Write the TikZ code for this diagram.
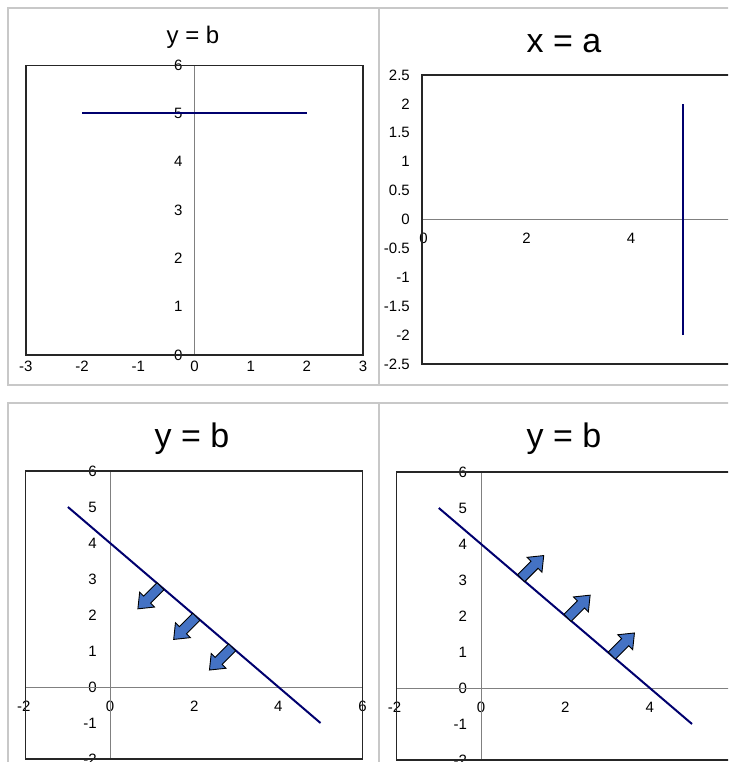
\documentclass[tikz,border=0pt]{standalone}
\usepackage{fontspec}
\setmainfont{Liberation Sans}
\definecolor{framegray}{RGB}{200,200,200}
\definecolor{axisgray}{RGB}{128,128,128}
\definecolor{linenavy}{RGB}{0,0,110}
\definecolor{arrowblue}{RGB}{68,114,196}
\tikzset{
  pics/blockarrow/.style={code={
    \draw[fill=arrowblue,line width=0.9pt,line join=miter]
      (0pt,-5pt) -- (19pt,-5pt) -- (19pt,-10.5pt) -- (32pt,0pt)
      -- (19pt,10.5pt) -- (19pt,5pt) -- (0pt,5pt) -- cycle;}}}

\begin{document}
\begin{tikzpicture}[x=1pt,y=1pt,
  panel/.style={draw=framegray,line width=2pt},
  plotarea/.style={draw=black!85,line width=1.3pt},
  axisline/.style={draw=axisgray,line width=0.8pt},
  dataline/.style={draw=linenavy,line width=2pt},
  ylab/.style={font=\fontsize{15}{17}\selectfont,inner sep=0pt,anchor=east},
  xlab/.style={font=\fontsize{15}{17}\selectfont,inner sep=0pt,anchor=base},
  smalltitle/.style={font=\fontsize{24}{28}\selectfont,inner sep=0pt,anchor=base},
  bigtitle/.style={font=\fontsize{34}{40}\selectfont,inner sep=0pt,anchor=base}]
  \useasboundingbox (0,0) rectangle (728,762);
  \clip (0,0) rectangle (728,762);

  % grey frames of the four charts
  \draw[panel] (8,377) rectangle (379,754);
  \draw[panel] (379,377) rectangle (740,754);
  \draw[panel] (8,-10) rectangle (379,359);
  \draw[panel] (379,-10) rectangle (740,359);

  % titles
  \node[smalltitle] (t1) at (193,718) {y = b};
  \node[bigtitle] (t2) at (564,709) {x = a};
  \node[bigtitle] (t3) at (192,314) {y = b};
  \node[bigtitle] (t4) at (564,314) {y = b};

  % chart 1: horizontal line y = 5
  \begin{scope}[shift={(194.5pt,407pt)},x=56.2pt,y=48.3pt]
    \node[ylab] (c1y0) at (-0.21,0) {0};
    \node[ylab] (c1y1) at (-0.21,1) {1};
    \node[ylab] (c1y2) at (-0.21,2) {2};
    \node[ylab] (c1y3) at (-0.21,3) {3};
    \node[ylab] (c1y4) at (-0.21,4) {4};
    \node[ylab] (c1y5) at (-0.21,5) {5};
    \node[ylab] (c1y6) at (-0.21,6) {6};
    \node[xlab] (c1xm3) at (-3,-0.35) {-3};
    \node[xlab] (c1xm2) at (-2,-0.35) {-2};
    \node[xlab] (c1xm1) at (-1,-0.35) {-1};
    \node[xlab] (c1x0) at (0,-0.35) {0};
    \node[xlab] (c1x1) at (1,-0.35) {1};
    \node[xlab] (c1x2) at (2,-0.35) {2};
    \node[xlab] (c1x3) at (3,-0.35) {3};
    \draw[axisline] (0,0) -- (0,6);
    \draw[plotarea] (-3,0) rectangle (3,6);
    \draw[dataline] (-2,5) -- (2,5);
  \end{scope}

  % chart 2: vertical line x = 5
  \begin{scope}[shift={(422pt,542.5pt)},x=52.25pt,y=57.8pt]
    \node[ylab] (c2ym25) at (-0.23,-2.5) {-2.5};
    \node[ylab] (c2ym2) at (-0.23,-2) {-2};
    \node[ylab] (c2ym15) at (-0.23,-1.5) {-1.5};
    \node[ylab] (c2ym1) at (-0.23,-1) {-1};
    \node[ylab] (c2ym05) at (-0.23,-0.5) {-0.5};
    \node[ylab] (c2y0) at (-0.23,0) {0};
    \node[ylab] (c2y05) at (-0.23,0.5) {0.5};
    \node[ylab] (c2y1) at (-0.23,1) {1};
    \node[ylab] (c2y15) at (-0.23,1.5) {1.5};
    \node[ylab] (c2y2) at (-0.23,2) {2};
    \node[ylab] (c2y25) at (-0.23,2.5) {2.5};
    \node[xlab] (c2x0) at (0.03,-0.41) {0};
    \node[xlab] (c2x2) at (2,-0.41) {2};
    \node[xlab] (c2x4) at (4,-0.41) {4};
    \draw[axisline] (0,0) -- (6.3,0);
    \draw[plotarea] (0,-2.5) rectangle (6.3,2.5);
    \draw[dataline] (5,-2) -- (5,2);
  \end{scope}

  % chart 3: line x + y = 4, arrows towards the origin
  \begin{scope}[shift={(110pt,75pt)},x=42.1pt,y=36pt]
    \node[ylab] (c3ym2) at (-0.31,-2) {-2};
    \node[ylab] (c3ym1) at (-0.31,-1) {-1};
    \node[ylab] (c3y0) at (-0.31,0) {0};
    \node[ylab] (c3y1) at (-0.31,1) {1};
    \node[ylab] (c3y2) at (-0.31,2) {2};
    \node[ylab] (c3y3) at (-0.31,3) {3};
    \node[ylab] (c3y4) at (-0.31,4) {4};
    \node[ylab] (c3y5) at (-0.31,5) {5};
    \node[ylab] (c3y6) at (-0.31,6) {6};
    \node[xlab] (c3xm2) at (-2.05,-0.69) {-2};
    \node[xlab] (c3x0) at (0,-0.69) {0};
    \node[xlab] (c3x2) at (2,-0.69) {2};
    \node[xlab] (c3x4) at (4,-0.69) {4};
    \node[xlab] (c3x6) at (6,-0.69) {6};
    \draw[axisline] (-2,0) -- (6,0);
    \draw[axisline] (0,-2) -- (0,6);
    \draw[plotarea] (-2,-2) rectangle (6,6);
    \draw[dataline] (-1,5) -- (5,-1);
    \pic[rotate=225] (c3a1) at (1.2,2.8) {blockarrow};
    \pic[rotate=225] (c3a2) at (2.05,1.95) {blockarrow};
    \pic[rotate=225] (c3a3) at (2.9,1.1) {blockarrow};
  \end{scope}

  % chart 4: line x + y = 4, arrows away from the origin
  \begin{scope}[shift={(481pt,74pt)},x=42.2pt,y=36pt]
    \node[ylab] (c4ym2) at (-0.33,-2) {-2};
    \node[ylab] (c4ym1) at (-0.33,-1) {-1};
    \node[ylab] (c4y0) at (-0.33,0) {0};
    \node[ylab] (c4y1) at (-0.33,1) {1};
    \node[ylab] (c4y2) at (-0.33,2) {2};
    \node[ylab] (c4y3) at (-0.33,3) {3};
    \node[ylab] (c4y4) at (-0.33,4) {4};
    \node[ylab] (c4y5) at (-0.33,5) {5};
    \node[ylab] (c4y6) at (-0.33,6) {6};
    \node[xlab] (c4xm2) at (-2.05,-0.69) {-2};
    \node[xlab] (c4x0) at (0,-0.69) {0};
    \node[xlab] (c4x2) at (2,-0.69) {2};
    \node[xlab] (c4x4) at (4,-0.69) {4};
    \draw[axisline] (-2,0) -- (6,0);
    \draw[axisline] (0,-2) -- (0,6);
    \draw[plotarea] (-2,-2) rectangle (6,6);
    \draw[dataline] (-1,5) -- (5,-1);
    \pic[rotate=45] (c4a1) at (0.95,3.05) {blockarrow};
    \pic[rotate=45] (c4a2) at (2.05,1.95) {blockarrow};
    \pic[rotate=45] (c4a3) at (3.1,0.9) {blockarrow};
  \end{scope}
\end{tikzpicture}
\end{document}
